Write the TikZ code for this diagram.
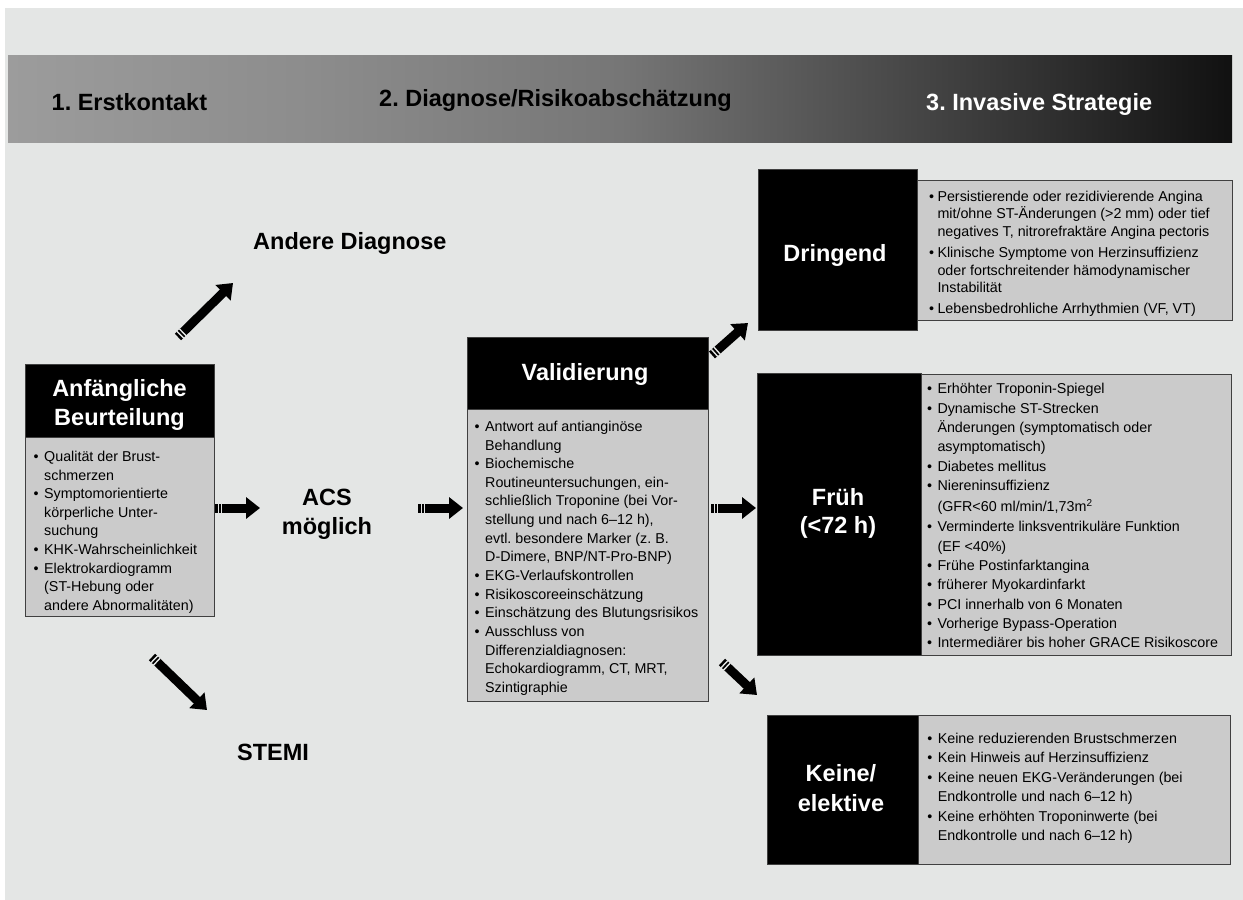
\documentclass[tikz,border=0pt]{standalone}
\usepackage{fontspec}
\setmainfont{Liberation Sans}
\usetikzlibrary{arrows.meta}
\frenchspacing
\definecolor{bgc}{HTML}{E4E6E5}
\definecolor{bodyc}{HTML}{CBCBCB}
\definecolor{edgec}{HTML}{404040}
\definecolor{hA}{HTML}{9C9C9C}
\definecolor{hB}{HTML}{8C8C8C}
\definecolor{hC}{HTML}{767676}
\definecolor{hD}{HTML}{444444}
\definecolor{hE}{HTML}{111111}
\pgfdeclarehorizontalshading{hdrshade}{100bp}{color(0bp)=(hA); color(25bp)=(hA); color(37.5bp)=(hB); color(50bp)=(hC); color(62.5bp)=(hD); color(75bp)=(hE); color(100bp)=(hE)}
\newcommand{\bpt}{\makebox[10.5pt][l]{\textbullet}}
\newcommand{\bind}{\hspace*{10.5pt}}
\newcommand{\bptn}{\makebox[8.5pt][l]{\textbullet}}
\newcommand{\bindn}{\hspace*{8.5pt}}
\tikzset{
  blk/.style={draw=edgec, fill=black, line width=1pt, inner sep=0pt, anchor=north west},
  bodybox/.style={draw=edgec, fill=bodyc, line width=1.3pt, inner sep=0pt, anchor=north west},
  ttl/.style={text=white, font=\fontsize{23.5}{28.3}\selectfont\bfseries, align=center, inner sep=0pt},
  big/.style={font=\fontsize{23.5}{29.5}\selectfont\bfseries, inner sep=0pt},
  lst/.style={font=\fontsize{14.3}{18.65}\selectfont, align=left, inner sep=0pt, anchor=north west},
  fat/.style={line width=9pt, -{Triangle[length=14pt,width=21pt]}},
  stripe/.style={line width=9.6pt, draw=bgc, dash pattern=on 0pt off 2.6pt on 1.4pt off 2pt on 1.4pt off 300pt}
}
\begin{document}
\begin{tikzpicture}[x=1pt,y=-1pt]
\useasboundingbox (0,0) rectangle (1243,900);
\fill[white] (0,0) rectangle (1243,900);
\fill[bgc] (5,8) rectangle (1243,900);
% header bar
\shade[shading=hdrshade] (8,55) rectangle (1232,142);
\node[big, anchor=base west] (h1) at (51.5,110) {1. Erstkontakt};
\node[big, anchor=base west] (h2) at (379,106) {2. Diagnose/Risikoabschätzung};
\node[big, anchor=base west, text=white] (h3) at (926,110) {3. Invasive Strategie};

% Anfaengliche Beurteilung
\node[blk, minimum width=189pt, minimum height=73pt] (abh) at (25,364) {};
\node[bodybox, minimum width=189pt, minimum height=179pt] (abb) at (25,437) {};
\node[ttl, anchor=north] (abt) at (119.5,379.6) {Anfängliche\\Beurteilung};
\node[lst] (abl) at (33.5,450.8) {\bpt Qualität der Brust-\\
\bind schmerzen\\
\bpt Symptomorientierte\\
\bind körperliche Unter-\\
\bind suchung\\
\bpt KHK-Wahrscheinlichkeit\\
\bpt Elektrokardiogramm\\
\bind (ST-Hebung oder\\
\bind andere Abnormalitäten)};

% free labels
\node[big, anchor=base west] (andere) at (253,249) {Andere Diagnose};
\node[big, align=center, anchor=north] (acs) at (327,488.7) {ACS\\möglich};
\node[big, anchor=base west] (stemi) at (237,760) {STEMI};

% Validierung
\node[blk, minimum width=241.3pt, minimum height=72pt] (vh) at (466.7,337) {};
\node[bodybox, minimum width=241.3pt, minimum height=291.7pt] (vb) at (466.7,409) {};
\node[ttl, anchor=base] (vt) at (585,380) {Validierung};
\node[lst, font=\fontsize{14.3}{18.64}\selectfont] (vl) at (474.5,420.8) {\bpt Antwort auf antianginöse\\
\bind Behandlung\\
\bpt Biochemische\\
\bind Routineuntersuchungen, ein-\\
\bind schließlich Troponine (bei Vor-\\
\bind stellung und nach 6–12 h),\\
\bind evtl. besondere Marker (z. B.\\
\bind D-Dimere, BNP/NT-Pro-BNP)\\
\bpt EKG-Verlaufskontrollen\\
\bpt Risikoscoreeinschätzung\\
\bpt Einschätzung des Blutungsrisikos\\
\bpt Ausschluss von\\
\bind Differenzialdiagnosen:\\
\bind Echokardiogramm, CT, MRT,\\
\bind Szintigraphie};

% Dringend
\node[blk, minimum width=159pt, minimum height=161pt] (dh) at (758,169) {};
\node[bodybox, minimum width=315pt, minimum height=139.5pt] (db) at (917,180) {};
\node[ttl, anchor=base] (dt) at (835,261.5) {Dringend};
\node[lst, font=\fontsize{14.3}{17.6}\selectfont] (dl) at (928.8,190.8) {\bptn Persistierende oder rezidivierende Angina\\
\bindn mit/ohne ST-Änderungen (>2 mm) oder tief\\
\bindn negatives T, nitrorefraktäre Angina pectoris\\[3.4pt]
\bptn Klinische Symptome von Herzinsuffizienz\\
\bindn oder fortschreitender hämodynamischer\\
\bindn Instabilität\\[3.4pt]
\bptn Lebensbedrohliche Arrhythmien (VF, VT)};

% Frueh
\node[blk, minimum width=164pt, minimum height=282pt] (fh) at (757,373) {};
\node[bodybox, minimum width=310pt, minimum height=281pt] (fb) at (921,374) {};
\node[ttl, anchor=north] (ft) at (838,487.9) {Früh\\(<72 h)};
\node[lst, font=\fontsize{14.3}{19.3}\selectfont] (fl) at (926.8,383.4) {\bpt Erhöhter Troponin-Spiegel\\
\bpt Dynamische ST-Strecken\\
\bind Änderungen (symptomatisch oder\\
\bind asymptomatisch)\\
\bpt Diabetes mellitus\\
\bpt Niereninsuffizienz\\[1.8pt]
\bind (GFR<60 ml/min/1,73m\textsuperscript{2}\\[1pt]
\bpt Verminderte linksventrikuläre Funktion\\
\bind (EF <40\%)\\
\bpt Frühe Postinfarktangina\\
\bpt früherer Myokardinfarkt\\
\bpt PCI innerhalb von 6 Monaten\\
\bpt Vorherige Bypass-Operation\\
\bpt Intermediärer bis hoher GRACE Risikoscore};

% Keine / elektive
\node[blk, minimum width=151pt, minimum height=149pt] (kh) at (767,715) {};
\node[bodybox, minimum width=312pt, minimum height=149pt] (kb) at (918,715) {};
\node[ttl, anchor=north, font=\fontsize{23.5}{30.3}\selectfont\bfseries] (kt) at (841,763.9) {Keine/\\elektive};
\node[lst, font=\fontsize{14.3}{19.44}\selectfont] (kl) at (927.1,732.9) {\bpt Keine reduzierenden Brustschmerzen\\
\bpt Kein Hinweis auf Herzinsuffizienz\\
\bpt Keine neuen EKG-Veränderungen (bei\\
\bind Endkontrolle und nach 6–12 h)\\
\bpt Keine erhöhten Troponinwerte (bei\\
\bind Endkontrolle und nach 6–12 h)};

% arrows
\coordinate (a1s) at (178,337); \coordinate (a1e) at (233,283);
\coordinate (a2s) at (215,508); \coordinate (a2e) at (260,508);
\coordinate (a3s) at (152,657); \coordinate (a3e) at (207,710);
\coordinate (a4s) at (418,508); \coordinate (a4e) at (463,508);
\coordinate (a5s) at (712,355); \coordinate (a5e) at (748,323);
\coordinate (a6s) at (711,508); \coordinate (a6e) at (756,508);
\coordinate (a7s) at (722,662); \coordinate (a7e) at (757,695);
\foreach \i in {1,...,7}{
  \draw[fat] (a\i s) -- (a\i e);
  \draw[stripe] (a\i s) -- (a\i e);
}
\end{tikzpicture}
\end{document}
